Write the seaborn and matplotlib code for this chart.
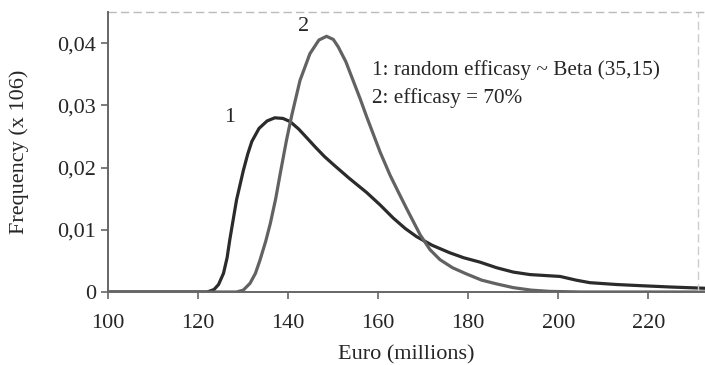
import numpy as np
import pandas as pd
import matplotlib
matplotlib.use('Agg')
import matplotlib.pyplot as plt
import seaborn as sns

# ── data ──────────────────────────────────────────────────────────────────────
x_random = [100, 110, 120, 122, 123.5, 124.5, 125.6, 126.4, 127, 128.5, 130,
            131, 131.9, 133.5, 135.3, 137, 138.8, 140.4, 142.3, 144.1, 146,
            148, 150, 153.5, 157.4, 160.4, 163.3, 166, 168.5, 172, 175.9, 179,
            182.6, 186.3, 190, 193.7, 200.4, 204, 207, 213, 218.8, 225, 232.6]
y_random = [0, 0, 0, 0, 0.0004, 0.0012, 0.003, 0.0055, 0.0084, 0.0148, 0.0195,
            0.0222, 0.0242, 0.0263, 0.0275, 0.0280, 0.0279, 0.0274, 0.0262,
            0.0248, 0.0233, 0.0218, 0.0205, 0.0183, 0.0160, 0.0140, 0.0119,
            0.0102, 0.0089, 0.0075, 0.0063, 0.0055, 0.0048, 0.0039, 0.0032,
            0.0028, 0.0025, 0.0019, 0.0015, 0.0012, 0.001, 0.0008, 0.0006]

x_fixed = [100, 110, 120, 128.5, 130, 131.5, 132.7, 133.7, 135, 136, 137.2,
           138.2, 139.6, 140.8, 142.6, 144.8, 146.8, 148.5, 150, 151.1, 152.8,
           154.4, 156, 157.4, 160.4, 162.6, 164.5, 166.3, 169.3, 171.5, 173.7,
           176.5, 179.6, 183, 186.3, 190, 194, 198, 205, 215, 232.6]
y_fixed = [0, 0, 0, 0, 0.0003, 0.0014, 0.003, 0.0051, 0.0082, 0.011, 0.015,
           0.019, 0.0244, 0.0285, 0.034, 0.0383, 0.0405, 0.0411, 0.0406,
           0.0394, 0.0370, 0.034, 0.031, 0.0282, 0.0225, 0.0188, 0.016, 0.0134,
           0.0092, 0.0068, 0.0052, 0.0039, 0.0029, 0.0019, 0.0013, 0.0007,
           0.0003, 0.0001, 0, 0, 0]

x_ticks = [100, 120, 140, 160, 180, 200, 220]
y_ticks = [0, 0.01, 0.02, 0.03, 0.04]
y_tick_labels = ['0', '0,01', '0,02', '0,03', '0,04']

legend_lines = ['1: random efficasy ~ Beta (35,15)', '2: efficasy = 70%']

df = pd.concat([
    pd.DataFrame({'euro': x_random, 'freq': y_random, 'curve': '1'}),
    pd.DataFrame({'euro': x_fixed, 'freq': y_fixed, 'curve': '2'}),
])

# ── plot ──────────────────────────────────────────────────────────────────────
sns.set_style('white')
plt.rcParams['font.family'] = ['Liberation Serif', 'DejaVu Serif']

fig = plt.figure(figsize=(7.05, 3.65), dpi=100)
ax = fig.add_axes([0.1536, 0.2, 0.8464, 0.767])

sns.lineplot(data=df, x='euro', y='freq', hue='curve',
             palette={'1': '#2b2b2b', '2': '#626262'},
             linewidth=2.3, legend=False, ax=ax, sort=False)

ax.set_xlim(100, 232.6)
ax.set_ylim(0, 0.045)
ax.set_xticks(x_ticks)
ax.set_xticklabels([str(t) for t in x_ticks], fontsize=16)
ax.set_yticks(y_ticks)
ax.set_yticklabels(y_tick_labels, fontsize=16)
ax.tick_params(axis='both', direction='out', length=5, width=1.2,
               color='#666666', bottom=True, left=True)
ax.tick_params(axis='x', pad=11)
ax.tick_params(axis='y', pad=4)

for side in ['left', 'bottom']:
    ax.spines[side].set_color('#666666')
    ax.spines[side].set_linewidth(1.4)
for side in ['top', 'right']:
    ax.spines[side].set_visible(False)

# faint box remains of the scanned frame
ax.axhline(0.045, color='#bbbbbb', lw=1, ls=(0, (6, 3)), clip_on=False)
ax.axvline(231, color='#cccccc', lw=1, ls=(0, (6, 3)))

ax.set_xlabel('Euro (millions)', fontsize=16, labelpad=9)
ax.set_ylabel('Frequency (x 106)', fontsize=16, labelpad=20)

ax.text(127, 0.028, '1', fontsize=16, ha='center', va='center')
ax.text(143.3, 0.0427, '2', fontsize=16, ha='center', va='center')
ax.text(158.6, 0.0357, legend_lines[0], fontsize=15.3, va='center')
ax.text(158.6, 0.0312, legend_lines[1], fontsize=15.3, va='center')

fig.savefig('out.png', dpi=100)
